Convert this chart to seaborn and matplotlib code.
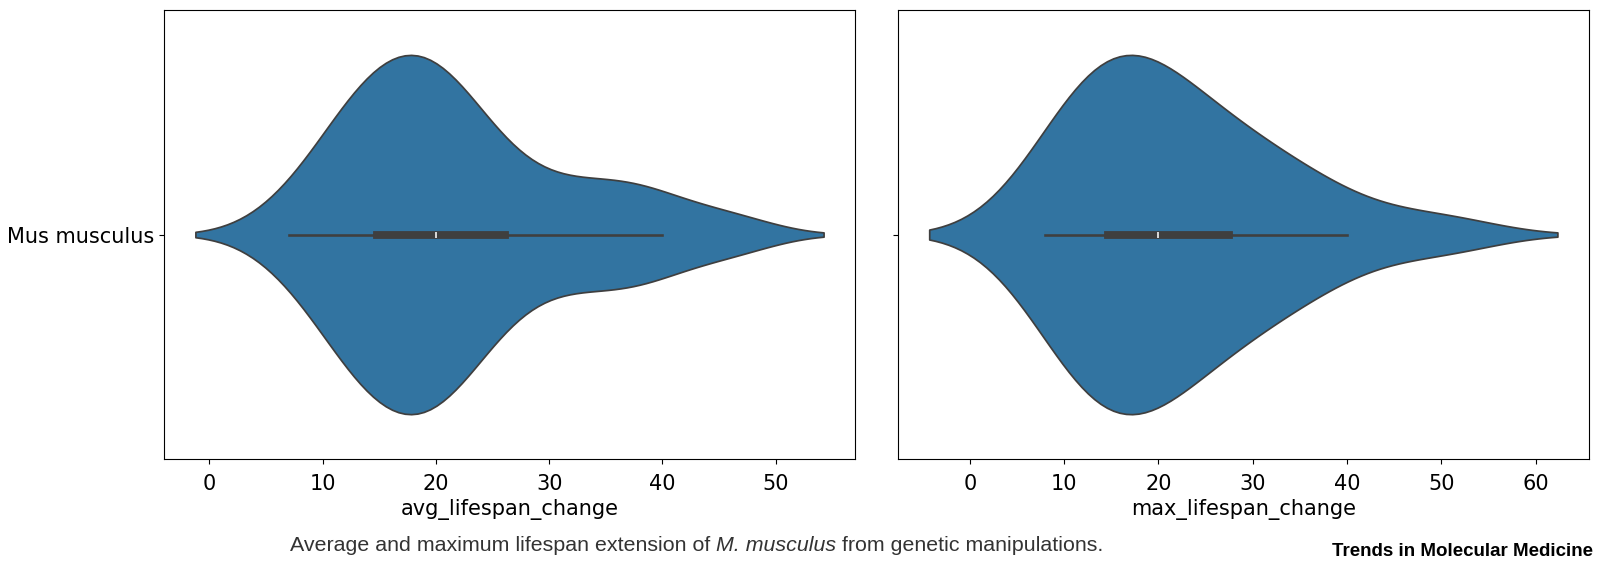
import pandas as pd
import seaborn as sns
import matplotlib.pyplot as plt

species = 'Mus musculus'

avg_lifespan_change = [7, 10, 11.5, 12.5, 13.5, 14, 14.8, 16, 17, 17.5, 18, 19, 20, 20.5, 21,
                       22, 23, 24.5, 26.1, 29, 32, 35, 37.5, 40, 46]
max_lifespan_change = [8, 10, 11, 12, 13, 14.6, 15.5, 16.5, 17, 18, 20, 21, 22, 24, 26,
                       27.5, 30, 33, 35, 40, 50]

caption_start = 'Average and maximum lifespan extension of '
caption_species = 'M. musculus'
caption_end = ' from genetic manipulations.'
journal = 'Trends in Molecular Medicine'

df_avg = pd.DataFrame({'species': species, 'avg_lifespan_change': avg_lifespan_change})
df_max = pd.DataFrame({'species': species, 'max_lifespan_change': max_lifespan_change})

plt.rcParams.update({'font.size': 15})

fig, axs = plt.subplots(1, 2, sharey=True, figsize=(16, 5.71), dpi=100)
fig.subplots_adjust(left=0.1025, right=0.993, bottom=0.196, top=0.9825, wspace=0.062)

sns.violinplot(ax=axs[0], data=df_avg, x='avg_lifespan_change', y='species', bw_adjust=0.79)
sns.violinplot(ax=axs[1], data=df_max, x='max_lifespan_change', y='species', bw_adjust=1.05)

for ax in axs:
    ax.set_ylabel('')
    ax.tick_params(labelsize=15)
    ax.tick_params(axis='x', pad=7)
    ax.xaxis.label.set_size(15)

# caption (species name in italics) + journal tag under the panels
cap_y = 0.035
t1 = fig.text(0.181, cap_y, caption_start, fontsize=15.4, color='#333333',
              family='Liberation Sans', va='baseline')
fig.canvas.draw()
x1 = t1.get_window_extent().x1 / fig.bbox.width
t2 = fig.text(x1, cap_y, caption_species, fontsize=15.4, color='#333333',
              family='Liberation Sans', style='italic', va='baseline')
fig.canvas.draw()
x2 = t2.get_window_extent().x1 / fig.bbox.width
fig.text(x2, cap_y, caption_end, fontsize=15.4, color='#333333',
         family='Liberation Sans', va='baseline')

fig.text(0.9956, 0.027, journal, fontsize=13.5, fontweight='bold', ha='right', va='baseline',
         family='Liberation Sans', color='black')

plt.savefig('out.png', dpi=100)
